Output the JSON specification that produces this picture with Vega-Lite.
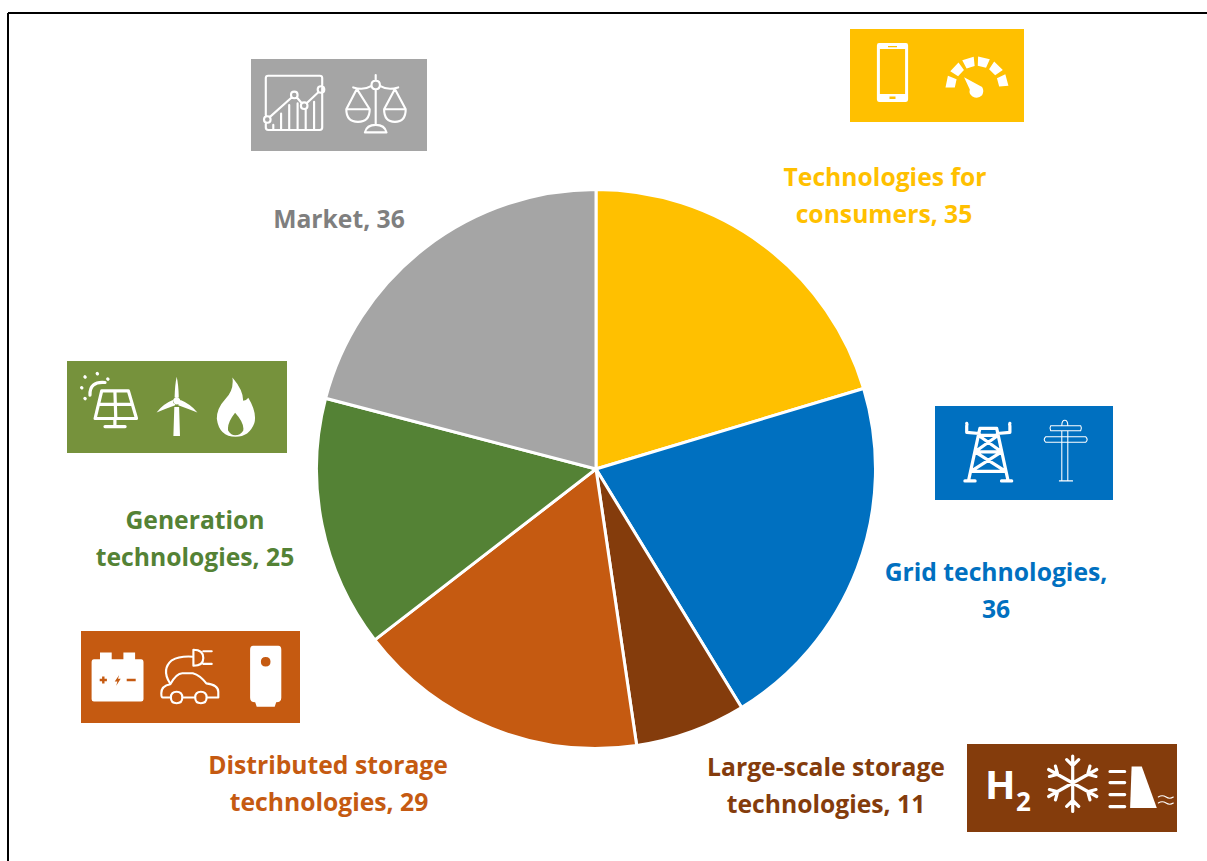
{
"$schema":"https://vega.github.io/schema/vega-lite/v6.json",
"width":556,"height":556,
"padding":{"left":318,"top":191,"right":333,"bottom":114},
"autosize":"none",
"background":"white",
"config":{"view":{"stroke":null}},
"datasets":{
"slices":[
{"category":"Technologies for consumers","order":1,"value":35},
{"category":"Grid technologies","order":2,"value":36},
{"category":"Large-scale storage technologies","order":3,"value":11},
{"category":"Distributed storage technologies","order":4,"value":29},
{"category":"Generation technologies","order":5,"value":25},
{"category":"Market","order":6,"value":36}],
"panels":[
{"category":"Technologies for consumers","x":850,"x2":1024,"y":29,"y2":122},
{"category":"Grid technologies","x":935,"x2":1113,"y":406,"y2":500},
{"category":"Large-scale storage technologies","x":967,"x2":1177,"y":744,"y2":832},
{"category":"Distributed storage technologies","x":81,"x2":300,"y":631,"y2":723},
{"category":"Generation technologies","x":67,"x2":287,"y":361,"y2":453},
{"category":"Market","x":251,"x2":427,"y":59,"y2":151}],
"labels":[
{"category":"Technologies for consumers","text":"Technologies for","x":885,"y":179},
{"category":"Technologies for consumers","text":"consumers, 35","x":884,"y":216},
{"category":"Grid technologies","text":"Grid technologies,","x":996,"y":574},
{"category":"Grid technologies","text":"36","x":996,"y":611},
{"category":"Large-scale storage technologies","text":"Large-scale storage","x":826,"y":769},
{"category":"Large-scale storage technologies","text":"technologies, 11","x":826,"y":806},
{"category":"Distributed storage technologies","text":"Distributed storage","x":328,"y":767},
{"category":"Distributed storage technologies","text":"technologies, 29","x":329,"y":804},
{"category":"Generation technologies","text":"Generation","x":195,"y":522},
{"category":"Generation technologies","text":"technologies, 25","x":195,"y":559},
{"category":"Market","text":"Market, 36","x":339,"y":221}],
"glyphs":[{"glyph":"H","x":985,"y":799},{"glyph":"2","x":1016,"y":811}],
"frame":[{"x":8,"x2":8,"y":13,"y2":861},{"x":8,"x2":1207,"y":13,"y2":13}],
"icons":[
{"icon":"phone","kind":"fill","x":892.5,"y":72.5},
{"icon":"gauge","kind":"fill","x":977,"y":88},
{"icon":"chart","kind":"medium","x":294,"y":102.7},
{"icon":"scales","kind":"medium","x":375.7,"y":103.3},
{"icon":"solar","kind":"thick","x":108.3,"y":401.7},
{"icon":"turbine","kind":"fill","x":176.7,"y":401},
{"icon":"flame","kind":"fill","x":235.7,"y":406.7},
{"icon":"battery","kind":"fill","x":117.7,"y":677.3},
{"icon":"car","kind":"medium","x":188.3,"y":678.3},
{"icon":"boiler","kind":"fill","x":265.7,"y":676.7},
{"icon":"pylon","kind":"thick","x":988.3,"y":453.3},
{"icon":"pole","kind":"thin","x":1065.7,"y":453.3},
{"icon":"snowflake","kind":"thick","x":1072.7,"y":783},
{"icon":"dam","kind":"fill","x":1136.7,"y":788},
{"icon":"dambars","kind":"thick","x":1136.7,"y":788},
{"icon":"damwaves","kind":"thin","x":1136.7,"y":788}]
},
"layer":[
{"data":{"name":"frame"},"mark":{"type":"rule","stroke":"black","strokeWidth":2},
"encoding":{
"x":{"field":"x","type":"quantitative","scale":{"domain":[318,874]},"axis":null},"x2":{"field":"x2"},
"y":{"field":"y","type":"quantitative","scale":{"domain":[747,191]},"axis":null},"y2":{"field":"y2"}}},
{"data":{"name":"slices"},"mark":{"type":"arc","outerRadius":279.5,"stroke":"white","strokeWidth":3},
"encoding":{
"theta":{"field":"value","type":"quantitative","stack":true},
"order":{"field":"order","type":"ordinal"},
"color":{"field":"category","type":"nominal","legend":null,"scale":{"domain":["Technologies for consumers","Grid technologies","Large-scale storage technologies","Distributed storage technologies","Generation technologies","Market"],"range":["#FFC000","#0070C0","#843C0C","#C55A11","#548235","#A5A5A5"]}}}},
{"data":{"name":"panels"},"mark":{"type":"rect"},
"encoding":{
"x":{"field":"x","type":"quantitative","scale":{"domain":[318,874]},"axis":null},"x2":{"field":"x2"},
"y":{"field":"y","type":"quantitative","scale":{"domain":[747,191]},"axis":null},"y2":{"field":"y2"},
"color":{"field":"category","type":"nominal","legend":null,"scale":{"domain":["Technologies for consumers","Grid technologies","Large-scale storage technologies","Distributed storage technologies","Generation technologies","Market"],"range":["#FFC000","#0070C0","#843C0C","#C55A11","#76923C","#A5A5A5"]}}}},
{"data":{"name":"labels"},"mark":{"type":"text","font":"Open Sans","fontWeight":700,"fontSize":24.7,"align":"center","baseline":"middle"},
"encoding":{
"x":{"field":"x","type":"quantitative","scale":{"domain":[318,874]},"axis":null},
"y":{"field":"y","type":"quantitative","scale":{"domain":[747,191]},"axis":null},
"text":{"field":"text","type":"nominal"},
"color":{"field":"category","type":"nominal","legend":null,"scale":{"domain":["Technologies for consumers","Grid technologies","Large-scale storage technologies","Distributed storage technologies","Generation technologies","Market"],"range":["#FFC000","#0070C0","#843C0C","#C55A11","#548235","#7F7F7F"]}}}},
{"data":{"name":"glyphs"},"mark":{"type":"text","font":"Open Sans","fontWeight":700,"align":"left","baseline":"alphabetic","fill":"white"},
"encoding":{
"x":{"field":"x","type":"quantitative","scale":{"domain":[318,874]},"axis":null},
"y":{"field":"y","type":"quantitative","scale":{"domain":[747,191]},"axis":null},
"text":{"field":"glyph","type":"nominal"},
"size":{"field":"glyph","type":"nominal","legend":null,"scale":{"domain":["H","2"],"range":[40,26]}}}},
{"data":{"name":"icons"},"mark":{"type":"point","size":3600,"opacity":1,"strokeCap":"round","strokeJoin":"round"},
"encoding":{
"x":{"field":"x","type":"quantitative","scale":{"domain":[318,874]},"axis":null},
"y":{"field":"y","type":"quantitative","scale":{"domain":[747,191]},"axis":null},
"fill":{"field":"kind","type":"nominal","legend":null,"scale":{"domain":["fill","thin","medium","thick"],"range":["#FFFFFF","transparent","transparent","transparent"]}},
"stroke":{"field":"kind","type":"nominal","legend":null,"scale":{"domain":["fill","thin","medium","thick"],"range":["transparent","#FFFFFF","#FFFFFF","#FFFFFF"]}},
"strokeWidth":{"field":"kind","type":"nominal","legend":null,"scale":{"domain":["fill","thin","medium","thick"],"range":[0,3.2,3.6,6]}},
"shape":{"field":"icon","type":"nominal","legend":null,"scale":{"domain":["phone","gauge","chart","scales","solar","turbine","flame","battery","car","boiler","pylon","pole","snowflake","dam","dambars","damwaves"],"range":[
"M-.45 -.98 L.45 -.98 Q.52 -.98 .52 -.9 L.52 .9 Q.52 .98 .45 .98 L-.45 .98 Q-.52 .98 -.52 .9 L-.52 -.9 Q-.52 -.98 -.45 -.98 Z M-.42 -.78 L-.42 .72 L.42 .72 L.42 -.78 Z M-.1 .8 L-.1 .88 L.1 .88 L.1 .8 Z M-.15 -.88 L-.15 -.84 L.15 -.84 L.15 -.88 Z",
"M-.74 -.013 L-.68 -.29 L-.97 -.41 L-1.05 -.018 Z M-.63 -.39 L-.435 -.6 L-.617 -.85 L-.89 -.556 Z M-.347 -.653 L-.078 -.736 L-.11 -1.045 L-.492 -.927 Z M.026 -.739 L.301 -.676 L.427 -.96 L.037 -1.05 Z M.403 -.621 L.606 -.425 L.86 -.603 L.572 -.881 Z M.665 -.324 L.739 -.052 L1.048 -.074 L.944 -.46 Z M-.43 -.36 L.17 -.03 Q.25 .1 .17 .24 Q.03 .38 -.15 .28 Q-.28 .2 -.24 .05 Z",
"M-.94 .42 L-.94 -.82 Q-.94 -.9 -.86 -.9 L.86 -.9 Q.94 -.9 .94 -.82 L.94 .83 Q.94 .91 .86 .91 L-.86 .91 Q-.94 .91 -.94 .83 L-.94 .7 M-.89 .45 Q-1 .45 -1 .56 Q-1 .67 -.89 .67 Q-.78 .67 -.78 .56 Q-.78 .45 -.89 .45 Z M.01 -.37 Q-.1 -.37 -.1 -.26 Q-.1 -.15 .01 -.15 Q.12 -.15 .12 -.26 Q.12 -.37 .01 -.37 Z M.34 -.01 Q.23 -.01 .23 .1 Q.23 .21 .34 .21 Q.45 .21 .45 .1 Q.45 -.01 .34 -.01 Z M.9 -.55 Q.79 -.55 .79 -.44 Q.79 -.33 .9 -.33 Q1.01 -.33 1.01 -.44 Q1.01 -.55 .9 -.55 Z M-.81 .48 L-.07 -.18 M.09 -.18 L.26 .02 M.42 .02 L.82 -.36 M-.69 .74 L-.69 .89 M-.43 .36 L-.43 .89 M-.16 .08 L-.16 .89 M.12 .02 L.12 .89 M.39 .22 L.39 .89 M.67 -.03 L.67 .89",
"M0 -.94 L0 -.75 M0 -.47 L0 .72 M0 -.75 Q-.14 -.75 -.14 -.61 Q-.14 -.47 0 -.47 Q.14 -.47 .14 -.61 Q.14 -.75 0 -.75 Z M-.75 -.53 Q-.4 -.42 -.14 -.58 M.14 -.58 Q.4 -.42 .75 -.53 M-.98 .2 L-.63 -.48 L-.2 .2 Z M-.98 .2 Q-.98 .62 -.59 .62 Q-.2 .62 -.2 .2 M.28 .2 L.64 -.48 L1 .2 Z M.28 .2 Q.28 .62 .64 .62 Q1 .62 1 .2 M-.36 .97 Q-.3 .72 0 .72 Q.3 .72 .36 .97 Z",
"M-.22 -.36 L.67 -.36 L.94 .56 L-.44 .56 Z M-.33 .09 L.8 .09 M.22 -.36 L.25 .56 M.22 .56 L.22 .83 M-.11 .83 L.56 .83 M-.61 -.22 Q-.63 -.69 -.11 -.64 M-.78 -.83 L-.77 -.82 M-.37 -.94 L-.36 -.93 M-.02 -.76 L-.01 -.75 M-.89 -.47 L-.88 -.46 M-.78 -.11 L-.77 -.1",
"M-.07 -.12 Q-.06 -.55 0 -.81 Q.06 -.55 .07 -.12 Z M-.13 -.03 Q-.45 .1 -.67 .38 Q-.35 .25 -.05 .14 Z M.13 -.03 Q.45 .1 .69 .38 Q.35 .25 .05 .14 Z M-.08 .2 L.08 .2 L.11 1.17 L-.11 1.17 Z M0 -.12 Q.12 -.12 .12 0 Q.12 .12 0 .12 Q-.12 .12 -.12 0 Q-.12 -.12 0 -.12 Z",
"M-.11 -.97 Q.25 -.55 .25 -.2 Q.35 -.2 .42 -.3 Q.72 .2 .62 .55 Q.45 1 0 1 Q-.55 1 -.63 .4 Q-.63 .05 -.35 -.25 Q-.05 -.55 -.11 -.97 Z M-.02 .2 Q-.3 .55 -.25 .8 Q-.15 .95 -.02 .95 Q.15 .95 .25 .8 Q.3 .55 -.02 .2 Z",
"M-.59 -.83 L-.2 -.83 L-.2 -.6 L.19 -.6 L.19 -.83 L.58 -.83 L.58 -.6 L.78 -.6 Q.86 -.6 .86 -.5 L.86 .73 Q.86 .81 .78 .81 L-.79 .81 Q-.87 .81 -.87 .73 L-.87 -.5 Q-.87 -.6 -.79 -.6 L-.59 -.6 Z M-.52 -.03 L-.52 .05 L-.6 .05 L-.6 .13 L-.52 .13 L-.52 .21 L-.44 .21 L-.44 .13 L-.36 .13 L-.36 .05 L-.44 .05 L-.44 -.03 Z M.05 -.08 L-.1 .14 L-.01 .14 L-.05 .28 L.1 .05 L.01 .05 Z M.3 .05 L.3 .13 L.6 .13 L.6 .05 Z",
"M-.58 .64 L-.85 .64 Q-.9 .64 -.9 .5 Q-.9 .25 -.6 .2 Q-.4 -.17 -.2 -.17 L.15 -.17 Q.4 -.1 .6 .17 Q1 .22 1 .45 L1 .64 L.61 .64 M.23 .64 L-.2 .64 M-.39 .45 Q-.58 .45 -.58 .64 Q-.58 .83 -.39 .83 Q-.2 .83 -.2 .64 Q-.2 .45 -.39 .45 Z M.42 .45 Q.23 .45 .23 .64 Q.23 .83 .42 .83 Q.61 .83 .61 .64 Q.61 .45 .42 .45 Z M-.62 .15 Q-.9 -.3 -.55 -.6 Q-.3 -.75 .15 -.72 M.17 -.95 L.17 -.42 M.17 -.95 Q.5 -.95 .5 -.68 Q.5 -.42 .17 -.42 M.5 -.9 L.78 -.9 M.5 -.48 L.78 -.48",
"M-.42 -1.03 L.42 -1.03 Q.52 -1.03 .52 -.9 L.52 .7 Q.52 .85 .35 .85 L.3 1 L-.3 1 L-.35 .85 Q-.52 .85 -.52 .7 L-.52 -.9 Q-.52 -1.03 -.42 -1.03 Z M0 -.66 Q-.16 -.66 -.16 -.5 Q-.16 -.34 0 -.34 Q.16 -.34 .16 -.5 Q.16 -.66 0 -.66 Z",
"M-.72 -.92 L-.72 -.7 L-.3 -.66 M.72 -.92 L.72 -.7 L.3 -.66 M-.28 -.83 L.28 -.83 M-.28 -.83 L-.66 .92 M.28 -.83 L.66 .92 M-.78 .92 L-.44 .92 M.44 .92 L.78 .92 M-.33 -.6 L.33 -.6 M-.44 -.05 L.44 -.05 M-.58 .6 L.58 .6 M-.33 -.6 L.44 -.05 M.33 -.6 L-.44 -.05 M-.44 -.05 L.58 .6 M.44 -.05 L-.58 .6 M-.72 -1 L-.71 -.95 M.72 -1 L.71 -.95",
"M-.5 -.92 L.5 -.92 Q.55 -.84 .5 -.75 L-.5 -.75 Q-.55 -.84 -.5 -.92 Z M-.67 -.55 L.67 -.55 Q.76 -.46 .67 -.37 L-.67 -.37 Q-.76 -.46 -.67 -.55 Z M-.13 -.75 L-.13 .92 M.07 -.75 L.07 .92 M-.21 .92 L.23 .92 M-.13 -.92 Q-.13 -1.1 -.03 -1.1 Q.07 -1.1 .07 -.92",
"M0 -.9 L0 .95 M-.8 -.45 L.8 .45 M-.8 .45 L.8 -.45 M-.2 -.78 L0 -.58 L.2 -.78 M-.2 .78 L0 .58 L.2 .78 M.775 -.217 L.5 -.29 L.575 -.563 M.575 .563 L.5 .29 L.775 .217 M-.775 .217 L-.5 .29 L-.575 .563 M-.575 -.563 L-.5 -.29 L-.775 -.217",
"M-.17 -.72 L.17 -.72 L.67 .67 L-.22 .67 Z",
"M-.89 -.55 L-.4 -.55 M-.89 -.18 L-.4 -.18 M-.89 .22 L-.4 .22 M-.89 .62 L-.4 .62",
"M.72 .3 Q.85 .22 .98 .3 Q1.1 .38 1.22 .3 M.72 .5 Q.85 .42 .98 .5 Q1.1 .58 1.22 .5"
]}}}}
],
"resolve":{"scale":{"color":"independent"}}
}
